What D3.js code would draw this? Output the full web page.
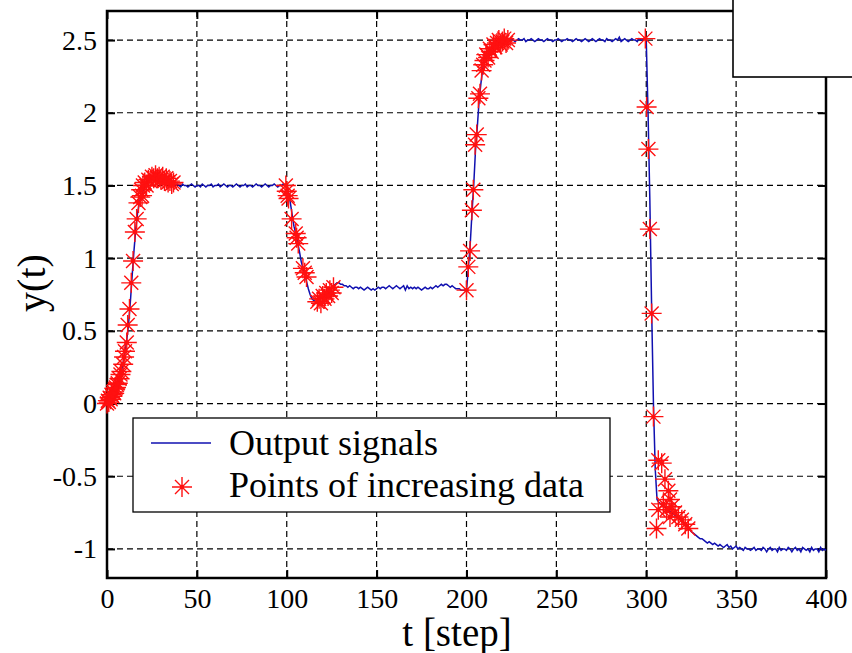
<!DOCTYPE html>
<html><head><meta charset="utf-8">
<script src="https://cdn.jsdelivr.net/npm/d3@7"></script>
<style>body{margin:0;background:#fff}svg{display:block}</style>
</head><body><svg id="c" width="852" height="653"></svg>
<script>
const xTicks = [0, 50, 100, 150, 200, 250, 300, 350, 400];
const yTicks = [-1, -0.5, 0, 0.5, 1, 1.5, 2, 2.5];
const yTickLabels = ["-1", "-0.5", "0", "0.5", "1", "1.5", "2", "2.5"];
const xLabel = "t [step]";
const yLabel = "y(t)";
const legendLabels = ["Output signals", "Points of increasing data"];

// Output signal, one value per step t = 0..400
const outputY = [
 0.00,0.01,0.03,0.05,0.07,0.10,0.13,0.17,0.22,0.28,
 0.35,0.44,0.55,0.70,0.88,1.05,1.20,1.31,1.38,1.43,
 1.46,1.49,1.51,1.53,1.54,1.55,1.56,1.56,1.56,1.55,
 1.55,1.54,1.53,1.53,1.52,1.52,1.51,1.51,1.50,1.51,
 1.50,1.49,1.51,1.50,1.50,1.49,1.50,1.51,1.50,1.49,
 1.50,1.50,1.49,1.51,1.50,1.49,1.50,1.50,1.51,1.49,
 1.50,1.50,1.51,1.49,1.50,1.51,1.50,1.49,1.50,1.50,
 1.49,1.50,1.51,1.50,1.49,1.50,1.50,1.51,1.49,1.50,
 1.50,1.49,1.50,1.51,1.50,1.50,1.49,1.50,1.51,1.50,
 1.49,1.50,1.50,1.51,1.50,1.49,1.50,1.50,1.51,1.50,
 1.50,1.45,1.38,1.30,1.22,1.17,1.11,1.05,0.98,0.93,
 0.89,0.84,0.79,0.75,0.72,0.71,0.70,0.70,0.69,0.69,
 0.70,0.71,0.73,0.75,0.77,0.79,0.81,0.82,0.83,0.83,
 0.82,0.82,0.81,0.81,0.80,0.81,0.80,0.79,0.80,0.80,
 0.79,0.80,0.79,0.78,0.79,0.80,0.79,0.78,0.79,0.78,
 0.79,0.80,0.79,0.80,0.80,0.79,0.80,0.81,0.80,0.79,
 0.80,0.81,0.80,0.79,0.80,0.81,0.78,0.81,0.79,0.80,
 0.79,0.80,0.79,0.80,0.79,0.78,0.79,0.80,0.79,0.79,
 0.80,0.79,0.80,0.81,0.80,0.81,0.82,0.81,0.82,0.82,
 0.81,0.80,0.81,0.80,0.79,0.79,0.79,0.78,0.78,0.78,
 0.78,0.93,1.08,1.30,1.50,1.74,1.90,2.08,2.20,2.30,
 2.36,2.39,2.41,2.43,2.45,2.46,2.47,2.48,2.49,2.49,
 2.50,2.50,2.51,2.50,2.50,2.51,2.50,2.49,2.50,2.51,
 2.50,2.50,2.51,2.49,2.50,2.50,2.51,2.50,2.49,2.50,
 2.51,2.50,2.50,2.49,2.50,2.51,2.50,2.50,2.49,2.50,
 2.50,2.51,2.50,2.49,2.50,2.50,2.51,2.50,2.50,2.49,
 2.50,2.51,2.50,2.50,2.49,2.50,2.51,2.50,2.49,2.50,
 2.51,2.50,2.49,2.50,2.51,2.50,2.50,2.49,2.51,2.50,
 2.50,2.49,2.50,2.51,2.50,2.52,2.49,2.50,2.51,2.50,
 2.49,2.50,2.51,2.50,2.50,2.49,2.51,2.50,2.50,2.51,
 2.50,2.00,1.40,0.65,0.00,-0.45,-0.66,-0.68,-0.69,-0.70,
 -0.71,-0.72,-0.73,-0.74,-0.75,-0.76,-0.77,-0.78,-0.79,-0.80,
 -0.81,-0.82,-0.84,-0.85,-0.86,-0.88,-0.89,-0.90,-0.91,-0.92,
 -0.93,-0.93,-0.94,-0.95,-0.96,-0.95,-0.96,-0.97,-0.96,-0.97,
 -0.98,-0.97,-0.98,-0.99,-0.98,-0.97,-0.99,-0.98,-1.00,-0.99,
 -0.98,-1.00,-0.99,-1.00,-1.01,-0.99,-1.00,-1.00,-1.01,-1.00,
 -0.99,-1.01,-1.00,-1.00,-1.01,-0.99,-1.00,-1.02,-1.00,-0.99,
 -1.01,-1.00,-1.00,-1.02,-0.99,-1.01,-1.00,-1.00,-1.01,-0.99,
 -1.00,-1.02,-1.00,-0.99,-1.01,-1.00,-1.02,-0.99,-1.00,-1.01,
 -1.00,-1.02,-0.99,-1.01,-1.00,-1.00,-1.02,-0.99,-1.01,-1.00,-1.01
];
const steps = outputY.map((_, i) => i);

// Points of increasing data
const starT = [
 0,0.5,1,1.5,2,2.5,3,3.5,4,4.5,5,5.5,6,7,7.5,8,9,9.5,10,11,11.5,12.5,13.5,14.5,15.5,16.5,17.5,18.5,19.5,19,20,21,22,23,24,25,26,27,28,29,30,31,32,33,34,35,36,37,
 99.5,100,100.5,101,102.7,105,105.5,106.4,109,110,111,117,118,119,120,121,122,123,124,125,126,
 200,201,202,203,203.8,204.8,205.7,206.6,207.5,208.4,209.3,210,211,212,213,214,215,216,217,218,219,220,221,222,223,
 299.5,300.2,301.2,302,303,304,305.7,306.7,306.7,308.6,309.5,310.4,311.3,312.3,313.2,313.2,314.1,316,317.9,319.8,321.7,323.4
];
const starY = [
 0.00,0.02,0.01,0.04,0.03,0.06,0.05,0.08,0.07,0.10,0.11,0.13,0.14,0.17,0.20,0.22,0.27,0.32,0.36,0.42,0.54,0.65,0.83,0.98,1.18,1.27,1.38,1.42,1.43,1.47,1.50,1.52,1.50,1.54,1.53,1.56,1.55,1.57,1.55,1.56,1.54,1.56,1.53,1.55,1.52,1.53,1.51,1.52,
 1.50,1.46,1.43,1.41,1.27,1.17,1.14,1.10,0.93,0.90,0.87,0.70,0.72,0.69,0.74,0.72,0.76,0.74,0.78,0.76,0.80,
 0.78,0.94,1.05,1.33,1.47,1.78,1.85,2.10,2.13,2.29,2.33,2.36,2.40,2.38,2.44,2.42,2.47,2.45,2.48,2.50,2.47,2.49,2.51,2.48,2.50,
 2.51,2.04,1.75,1.20,0.62,-0.09,-0.86,-0.39,-0.73,-0.41,-0.69,-0.52,-0.73,-0.60,-0.66,-0.78,-0.71,-0.75,-0.78,-0.80,-0.83,-0.86
];

const svg = d3.select("#c");
const M = {l: 107, r: 826, t: 11, b: 578};
const x = d3.scaleLinear().domain([0, 400]).range([M.l, M.r]);
const y = d3.scaleLinear().domain([-1.2, 2.7]).range([M.b, M.t]);
const font = "'Liberation Serif','Times New Roman',serif";
const lineColor = "#1010b0", starColor = "#ff1010";

svg.append("rect").attr("width", 852).attr("height", 653).attr("fill", "#fff");

// grid
const grid = svg.append("g").attr("stroke", "#000").attr("stroke-width", 1.2).attr("stroke-dasharray", "6,4");
grid.selectAll("line.gx").data(xTicks.filter(d => d > 0 && d < 400)).join("line")
  .attr("x1", d => x(d)).attr("x2", d => x(d)).attr("y1", M.t).attr("y2", M.b);
grid.selectAll("line.gy").data(yTicks).join("line").attr("class", "gy")
  .attr("x1", M.l).attr("x2", M.r).attr("y1", d => y(d)).attr("y2", d => y(d));

// axes
function styleAxis(g) {
  g.attr("font-family", font);
  g.select(".domain").remove();
  g.selectAll(".tick line").attr("stroke", "#000").attr("stroke-width", 2);
  g.selectAll(".tick text").attr("font-family", font).attr("font-size", 28).attr("fill", "#000");
}
svg.append("g").attr("transform", `translate(0,${M.b})`)
  .call(d3.axisBottom(x).tickValues(xTicks).tickSize(-8).tickPadding(10).tickFormat(d3.format("d"))).call(styleAxis);
svg.append("g").attr("transform", `translate(0,${M.t})`)
  .call(d3.axisTop(x).tickValues(xTicks).tickSize(-8).tickFormat("")).call(styleAxis);
svg.append("g").attr("transform", `translate(${M.l},0)`)
  .call(d3.axisLeft(y).tickValues(yTicks).tickSize(-8).tickPadding(10).tickFormat((d, i) => yTickLabels[i])).call(styleAxis);
svg.append("g").attr("transform", `translate(${M.r},0)`)
  .call(d3.axisRight(y).tickValues(yTicks).tickSize(-8).tickFormat("")).call(styleAxis);

svg.append("rect").attr("x", M.l).attr("y", M.t).attr("width", M.r - M.l).attr("height", M.b - M.t)
  .attr("fill", "none").attr("stroke", "#000").attr("stroke-width", 2.5);

// line
const line = d3.line().x((d, i) => x(steps[i])).y(d => y(d));
svg.append("path").datum(outputY).attr("d", line).attr("fill", "none")
  .attr("stroke", lineColor).attr("stroke-width", 1.5);

// stars
const R = 10, D = 7;
const starPath = `M0,${-R}V${R}M${-R},0H${R}M${-D},${-D}L${D},${D}M${-D},${D}L${D},${-D}`;
const stars = svg.append("g");
stars.selectAll("path").data(starT).join("path")
  .attr("transform", (d, i) => `translate(${x(d)},${y(starY[i])})`)
  .attr("d", starPath).attr("stroke", starColor).attr("stroke-width", 1.4).attr("fill", "none");
stars.selectAll("circle").data(starT).join("circle")
  .attr("cx", d => x(d)).attr("cy", (d, i) => y(starY[i])).attr("r", 2.2).attr("fill", starColor);

// labels
svg.append("text").attr("x", 457).attr("y", 646).attr("text-anchor", "middle")
  .attr("font-family", font).attr("font-size", 39).text(xLabel);
svg.append("text").attr("transform", "translate(45,283) rotate(-90)").attr("text-anchor", "middle")
  .attr("font-family", font).attr("font-size", 40).text(yLabel);

// legend
const lg = svg.append("g");
lg.append("rect").attr("x", 133).attr("y", 418).attr("width", 477).attr("height", 94)
  .attr("fill", "#fff").attr("stroke", "#000").attr("stroke-width", 1.3);
lg.append("line").attr("x1", 151).attr("x2", 211).attr("y1", 443).attr("y2", 443)
  .attr("stroke", lineColor).attr("stroke-width", 1.5);
lg.append("path").attr("transform", "translate(182,487)").attr("d", starPath)
  .attr("stroke", starColor).attr("stroke-width", 1.4).attr("fill", "none");
lg.append("circle").attr("cx", 182).attr("cy", 487).attr("r", 2.2).attr("fill", starColor);
lg.selectAll("text").data(legendLabels).join("text")
  .attr("x", 229).attr("y", (d, i) => 455 + i * 42)
  .attr("font-family", font).attr("font-size", 36).text(d => d);

// blank box at top right
svg.append("rect").attr("x", 733).attr("y", -5).attr("width", 130).attr("height", 82)
  .attr("fill", "#fff").attr("stroke", "#000").attr("stroke-width", 1.6);
</script></body></html>
